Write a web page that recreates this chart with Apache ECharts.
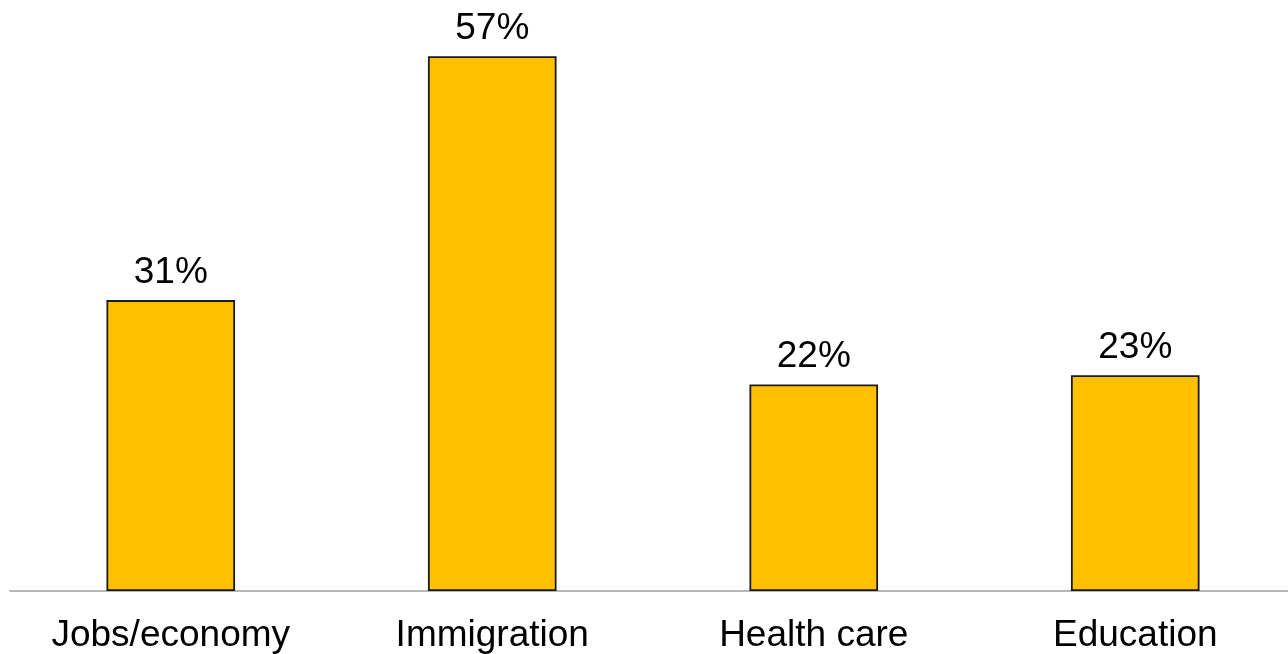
<!DOCTYPE html>
<html>
<head>
<meta charset="utf-8">
<script src="https://cdn.jsdelivr.net/npm/echarts@6/dist/echarts.min.js"></script>
<style>
html,body{margin:0;padding:0;background:#fff;overflow:hidden;}
#chart{width:1296px;height:654px;}
</style>
</head>
<body>
<div id="chart"></div>
<script>
const categories = ["Jobs/economy", "Immigration", "Health care", "Education"];
const values = [31, 57, 22, 23];

const chart = echarts.init(document.getElementById('chart'), null, {renderer: 'canvas'});
chart.setOption({
  animation: false,
  backgroundColor: '#ffffff',
  grid: {left: 10, right: 0, top: 28, bottom: 63, containLabel: false},
  xAxis: {
    type: 'category',
    data: categories,
    axisLine: {show: true, lineStyle: {color: '#a0a0a0', width: 1.5}},
    axisTick: {show: false},
    axisLabel: {
      color: '#000',
      fontFamily: 'Liberation Sans, Arial, sans-serif',
      fontSize: 37,
      margin: 26
    }
  },
  yAxis: {
    type: 'value',
    min: 0,
    max: 60,
    show: false,
    splitLine: {show: false}
  },
  series: [{
    type: 'bar',
    data: values,
    barWidth: '40%',
    itemStyle: {color: '#FFC000', borderColor: '#1a1a1a', borderWidth: 1.8},
    label: {
      show: true,
      position: 'top',
      distance: 9,
      formatter: '{c}%',
      color: '#000',
      fontFamily: 'Liberation Sans, Arial, sans-serif',
      fontSize: 37
    }
  }]
});
</script>
</body>
</html>
